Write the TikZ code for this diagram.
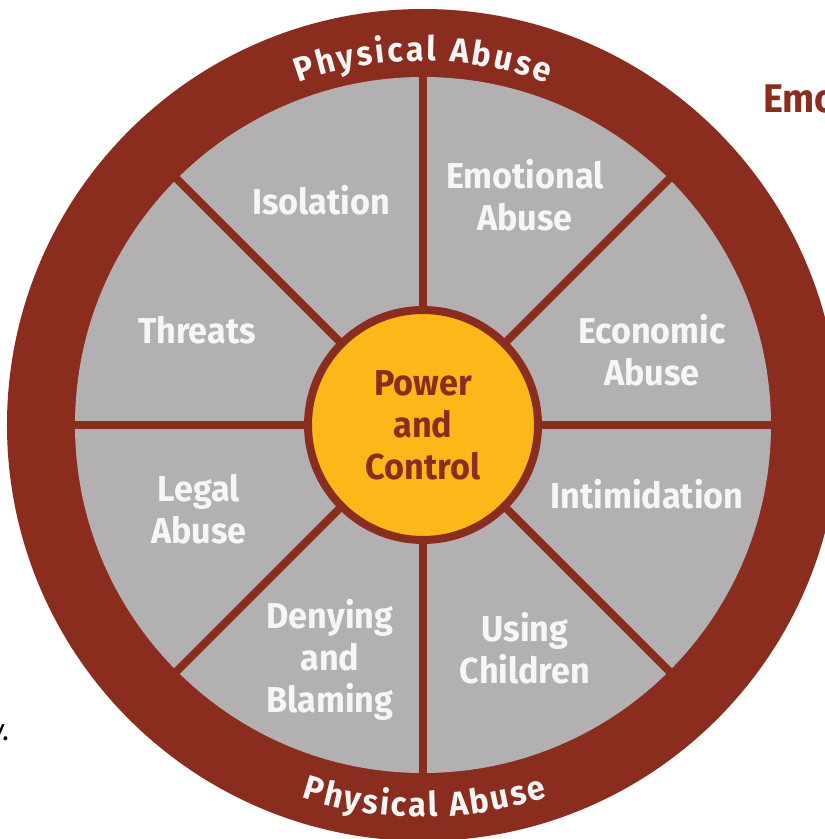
\documentclass[tikz,border=0pt]{standalone}
\usepackage{fontspec}
\setmainfont{Fira Sans}[FakeStretch=0.95]
\usetikzlibrary{decorations.text}
\definecolor{ringred}{RGB}{138,45,30}
\definecolor{wheelgray}{RGB}{178,176,177}
\definecolor{hubyellow}{RGB}{251,184,24}
\definecolor{labelwhite}{RGB}{246,246,246}
\begin{document}
\begin{tikzpicture}[x=1pt,y=1pt,
  seglabel/.style={text=labelwhite, font=\bfseries\fontsize{36}{42}\selectfont, align=center},
  hublabel/.style={text=ringred, font=\bfseries\fontsize{36}{42}\selectfont, align=center},
  spoke/.style={draw=ringred, line width=8pt}]
\useasboundingbox (-423,-414) rectangle (402,425);
\clip (-423,-414) rectangle (402,425);
\fill[white] (-423,-414) rectangle (402,425);
\coordinate (c) at (0,0);
\fill[ringred] (c) circle (416);
\fill[wheelgray] (c) circle (348);
\foreach \a in {0,45,...,315} \draw[spoke] (c) -- (\a:349);
\node[draw=ringred, line width=8pt, fill=hubyellow, circle, minimum size=230, inner sep=0pt] (hub) at (c) {};
\node[hublabel] (pc) at (0,0) {Power\\and\\Control};
\node[seglabel] (iso) at (-102,225) {Isolation};
\node[seglabel] (emo) at (102,230) {Emotional\\Abuse};
\node[seglabel] (thr) at (-226,95) {Threats};
\node[seglabel] (eco) at (229,75) {Economic\\Abuse};
\node[seglabel] (inti) at (224,-69) {Intimidation};
\node[seglabel] (leg) at (-224,-84) {Legal\\Abuse};
\node[seglabel] (den) at (-93,-235) {Denying\\and\\Blaming};
\node[seglabel] (chi) at (102,-223) {Using\\Children};
\path[decorate, decoration={text along path, text align=fit to path, text color=labelwhite,
  text={|\bfseries\fontsize{34}{40}\selectfont|Physical Abuse}}]
  (110:364) arc[start angle=110, end angle=70, radius=364];
\path[decorate, decoration={text along path, text align=fit to path, text color=labelwhite,
  text={|\bfseries\fontsize{34}{40}\selectfont|Physical Abuse}}]
  (252:392) arc[start angle=252, end angle=288.5, radius=392];
\node[anchor=base west, text=ringred, font=\bfseries\fontsize{40}{46}\selectfont, inner sep=0pt] (emohead) at (340,312) {Emotional Abuse};
\node[anchor=base east, text=black, font=\itshape\fontsize{30}{36}\selectfont, inner sep=0pt] (cut) at (-413,-315) {y.};
\end{tikzpicture}
\end{document}
